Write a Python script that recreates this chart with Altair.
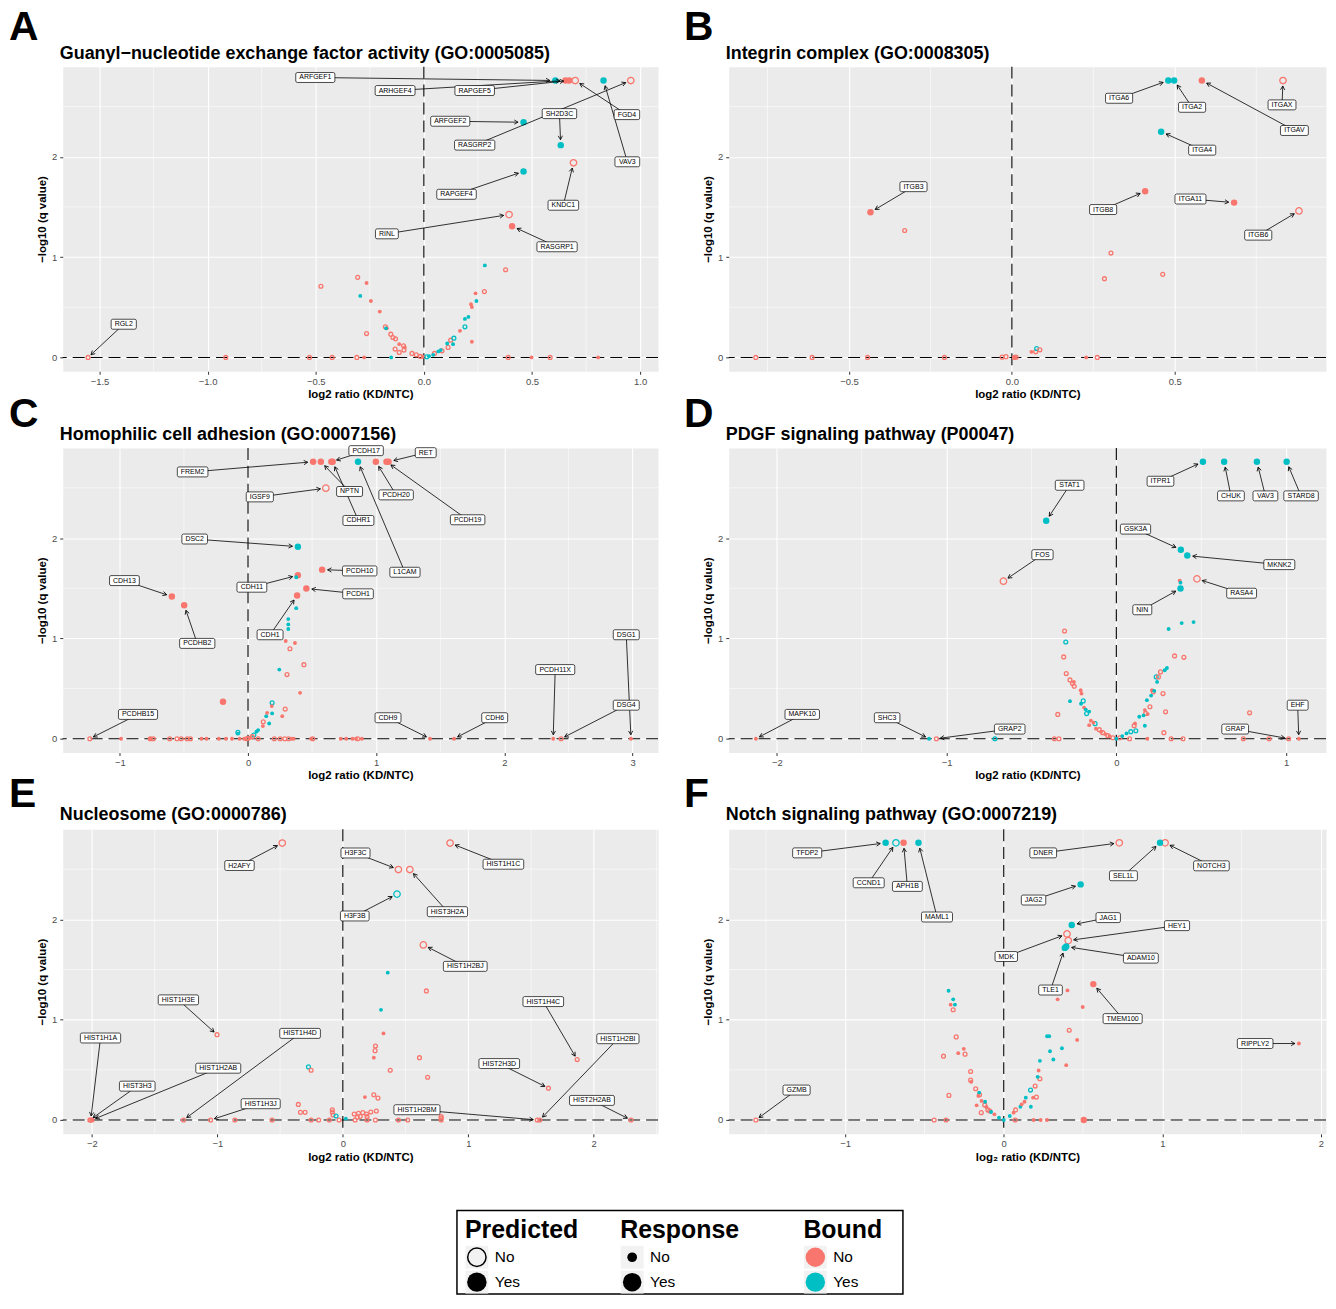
import math
import pandas as pd
import altair as alt

RED = "#F8766D"
TEAL = "#00BFC4"
FONT = "Liberation Sans"
Y_TITLE = "−log10 (q value)"
Y_DOMAIN = [-0.138, 2.898]
Y_TICKS = [0, 1, 2]
Y_MINOR = [0.5, 1.5, 2.5]

# kind code: first letter r/t = Bound No/Yes (upper case = Response Yes), second f/o = Predicted Yes/No
A_pts = [
    (0.608, 2.76, "Tf"), (0.655, 2.76, "Rf"), (0.672, 2.76, "Rf"), (0.700, 2.76, "Ro"), (0.831, 2.76, "Tf"),
    (0.957, 2.76, "Ro"), (0.461, 2.344, "Tf"), (0.633, 2.116, "Tf"), (0.692, 1.94, "Ro"), (0.461, 1.854, "Tf"),
    (0.394, 1.424, "Ro"), (0.408, 1.308, "Rf"),
    (-1.553, 0, "ro"), (-0.916, 0, "ro"), (-0.529, 0, "ro"), (-0.424, 0, "ro"), (-0.310, 0, "ro"),
    (-0.276, 0, "rf"), (-0.151, 0, "tf"), (0.390, 0, "ro"), (0.498, 0, "rf"), (0.584, 0, "ro"), (0.806, 0, "rf"),
    (-0.476, 0.709, "ro"), (-0.306, 0.798, "ro"), (-0.265, 0.742, "rf"), (-0.294, 0.613, "tf"), (-0.245, 0.563, "rf"),
    (-0.204, 0.457, "rf"), (-0.178, 0.305, "ro"), (-0.171, 0.291, "rf"), (-0.175, 0.29, "tf"), (-0.265, 0.238, "ro"),
    (-0.153, 0.232, "ro"), (-0.143, 0.199, "ro"), (-0.131, 0.185, "ro"), (-0.114, 0.132, "rf"), (-0.133, 0.083, "ro"),
    (-0.094, 0.116, "ro"), (-0.092, 0.073, "ro"), (-0.088, 0.099, "rf"), (-0.114, 0.05, "ro"), (-0.055, 0.04, "ro"),
    (-0.035, 0.026, "ro"), (-0.016, 0.01, "ro"), (-0.006, 0.007, "rf"),
    (0.014, 0.007, "to"), (0.024, 0.013, "tf"), (0.043, 0.026, "tf"), (0.049, 0.04, "ro"), (0.067, 0.06, "tf"),
    (0.078, 0.073, "tf"), (0.084, 0.066, "ro"), (0.112, 0.1, "ro"), (0.108, 0.139, "tf"), (0.124, 0.172, "ro"),
    (0.139, 0.192, "to"), (0.135, 0.132, "tf"), (0.167, 0.265, "rf"), (0.190, 0.305, "to"), (0.190, 0.384, "tf"),
    (0.206, 0.404, "tf"), (0.218, 0.53, "rf"), (0.222, 0.503, "rf"), (0.243, 0.563, "tf"), (0.239, 0.639, "rf"),
    (0.280, 0.656, "ro"), (0.282, 0.917, "tf"), (0.378, 0.874, "ro"), (0.222, 0.156, "rf"),
]
A_lab = [
    ("ARFGEF1", -0.502, 2.79, 0.608, 2.76), ("ARHGEF4", -0.133, 2.66, 0.655, 2.76),
    ("RAPGEF5", 0.235, 2.66, 0.672, 2.76), ("FGD4", 0.939, 2.42, 0.700, 2.76),
    ("VAV3", 0.941, 1.95, 0.831, 2.76), ("SH2D3C", 0.627, 2.43, 0.633, 2.116),
    ("RASGRP2", 0.235, 2.116, 0.957, 2.76), ("ARFGEF2", 0.122, 2.354, 0.461, 2.344),
    ("RAPGEF4", 0.151, 1.626, 0.461, 1.854), ("KNDC1", 0.645, 1.517, 0.692, 1.94),
    ("RINL", -0.171, 1.232, 0.394, 1.424), ("RASGRP1", 0.616, 1.103, 0.408, 1.308),
    ("RGL2", -1.388, 0.331, -1.553, 0),
]

B_pts = [
    (0.48, 2.76, "Tf"), (0.498, 2.76, "Tf"), (0.583, 2.76, "Rf"), (0.832, 2.76, "Ro"), (0.458, 2.25, "Tf"),
    (-0.434, 1.447, "Rf"), (0.409, 1.656, "Rf"), (0.682, 1.543, "Rf"), (0.881, 1.46, "Ro"),
    (-0.329, 1.265, "ro"), (0.304, 1.04, "ro"), (0.284, 0.785, "ro"), (0.463, 0.828, "ro"),
    (-0.786, 0, "ro"), (-0.613, 0, "ro"), (-0.443, 0, "ro"), (-0.207, 0, "ro"), (-0.03, 0.003, "ro"),
    (-0.018, 0.008, "ro"), (0.008, 0, "ro"), (0.013, 0.003, "ro"), (0.009, 0, "rf"), (0.228, 0, "rf"),
    (0.262, 0, "ro"), (0.06, 0.056, "rf"), (0.073, 0.056, "ro"), (0.076, 0.089, "to"), (0.086, 0.076, "ro"),
]
B_lab = [
    ("ITGA6", 0.329, 2.583, 0.48, 2.76), ("ITGA2", 0.553, 2.493, 0.498, 2.76),
    ("ITGAX", 0.829, 2.517, 0.832, 2.76), ("ITGAV", 0.867, 2.262, 0.583, 2.76),
    ("ITGA4", 0.584, 2.066, 0.458, 2.25), ("ITGB3", -0.302, 1.702, -0.434, 1.447),
    ("ITGB8", 0.28, 1.474, 0.409, 1.656), ("ITGA11", 0.548, 1.579, 0.682, 1.543),
    ("ITGB6", 0.756, 1.219, 0.881, 1.46),
]

C_pts = [
    (0.508, 2.76, "Rf"), (0.568, 2.76, "Rf"), (0.65, 2.76, "Rf"), (0.66, 2.76, "Rf"), (0.858, 2.76, "Tf"),
    (0.997, 2.76, "Rf"), (1.08, 2.76, "Rf"), (1.096, 2.76, "Rf"), (0.607, 2.497, "Ro"), (0.389, 1.914, "Tf"),
    (0.578, 1.685, "Rf"), (0.389, 1.629, "Rf"), (0.455, 1.497, "Rf"), (0.383, 1.427, "Rf"),
    (-0.594, 1.417, "Rf"), (-0.498, 1.331, "Rf"), (-0.195, 0.368, "Rf"),
    (0.314, 1.192, "tf"), (0.314, 1.139, "tf"), (0.314, 1.093, "tf"), (0.376, 1.301, "tf"), (0.376, 1.609, "tf"),
    (0.294, 0.974, "rf"), (0.366, 0.954, "rf"), (0.327, 0.897, "ro"), (0.436, 0.738, "ro"), (0.244, 0.689, "tf"),
    (0.304, 0.639, "ro"), (0.406, 0.457, "rf"), (0.188, 0.358, "to"), (0.185, 0.325, "rf"), (0.188, 0.252, "tf"),
    (0.29, 0.295, "ro"), (0.267, 0.225, "rf"), (0.142, 0.225, "tf"), (0.165, 0.152, "tf"), (0.149, 0.258, "rf"),
    (0.116, 0.126, "rf"), (0.119, 0.169, "ro"), (0.079, 0.086, "tf"), (0.066, 0.07, "tf"), (0.046, 0.036, "to"),
    (0.033, 0.02, "ro"), (-0.079, 0.063, "to"), (-0.079, 0.05, "tf"), (0.02, 0.01, "rf"), (0.0, 0.005, "ro"),
    (-1.234, 0, "ro"), (-0.762, 0, "ro"), (-0.739, 0, "ro"), (-0.611, 0, "ro"), (-0.554, 0, "ro"),
    (-0.521, 0, "ro"), (-0.475, 0, "ro"), (-0.449, 0, "ro"), (-0.01, 0, "ro"), (0.079, 0, "ro"),
    (0.205, 0, "ro"), (0.251, 0, "ro"), (0.287, 0, "ro"), (0.317, 0, "ro"), (0.505, 0, "ro"),
    (0.855, 0, "ro"), (2.442, 0, "ro"),
    (-0.99, 0, "rf"), (-0.766, 0, "rf"), (-0.363, 0, "rf"), (-0.323, 0, "rf"), (-0.228, 0, "rf"),
    (-0.172, 0, "rf"), (-0.125, 0, "rf"), (-0.066, 0, "rf"), (-0.03, 0, "rf"), (0.34, 0, "rf"),
    (0.356, 0, "rf"), (0.492, 0, "rf"), (0.723, 0, "rf"), (0.766, 0, "rf"), (0.815, 0, "rf"),
    (0.842, 0, "rf"), (0.888, 0, "rf"), (1.419, 0, "rf"), (1.607, 0, "rf"), (2.38, 0, "rf"), (2.987, 0, "rf"),
]
C_lab = [
    ("PCDH17", 0.921, 2.871, 0.65, 2.76), ("RET", 1.386, 2.851, 1.096, 2.76),
    ("FREM2", -0.432, 2.659, 0.508, 2.76), ("NPTN", 0.792, 2.464, 0.568, 2.76),
    ("PCDH20", 1.155, 2.43, 0.997, 2.76), ("PCDH19", 1.713, 2.182, 1.08, 2.76),
    ("CDHR1", 0.861, 2.175, 0.66, 2.76), ("IGSF9", 0.092, 2.41, 0.607, 2.497),
    ("L1CAM", 1.224, 1.659, 0.858, 2.76), ("DSC2", -0.416, 1.99, 0.389, 1.914),
    ("PCDH10", 0.871, 1.672, 0.578, 1.685), ("CDH13", -0.964, 1.576, -0.594, 1.417),
    ("CDH11", 0.03, 1.51, 0.389, 1.629), ("PCDH1", 0.858, 1.444, 0.455, 1.497),
    ("PCDHB2", -0.396, 0.95, -0.498, 1.331), ("CDH1", 0.172, 1.036, 0.383, 1.427),
    ("DSG1", 2.95, 1.036, 2.987, 0), ("PCDH11X", 2.396, 0.689, 2.38, 0),
    ("DSG4", 2.95, 0.334, 2.442, 0), ("PCDHB15", -0.858, 0.242, -1.234, 0),
    ("CDH9", 1.092, 0.209, 1.419, 0), ("CDH6", 1.924, 0.209, 1.607, 0),
]

D_pts = [
    (0.51, 2.76, "Tf"), (0.635, 2.76, "Tf"), (0.828, 2.76, "Tf"), (1.003, 2.76, "Tf"), (-0.413, 2.172, "Tf"),
    (0.38, 1.884, "Tf"), (0.418, 1.825, "Tf"), (-0.665, 1.57, "Ro"), (0.475, 1.593, "Ro"), (0.378, 1.497, "Tf"),
    (0.373, 1.576, "rf"), (0.378, 1.555, "tf"), (0.308, 1.093, "tf"), (0.385, 1.152, "tf"), (0.455, 1.162, "tf"),
    (-0.305, 1.073, "ro"), (-0.298, 0.964, "to"), (-0.31, 0.815, "ro"), (-0.295, 0.649, "ro"), (-0.273, 0.586, "ro"),
    (-0.258, 0.55, "ro"), (-0.25, 0.566, "rf"), (-0.248, 0.523, "ro"), (-0.21, 0.483, "rf"), (-0.205, 0.45, "rf"),
    (-0.273, 0.374, "tf"), (-0.208, 0.348, "tf"), (-0.195, 0.377, "to"), (-0.345, 0.242, "ro"),
    (-0.19, 0.31, "rf"), (-0.18, 0.29, "tf"), (-0.175, 0.25, "to"), (-0.16, 0.27, "tf"), (-0.15, 0.18, "rf"),
    (-0.16, 0.135, "rf"), (-0.135, 0.16, "rf"), (-0.125, 0.15, "to"), (-0.12, 0.1, "rf"), (-0.1, 0.09, "ro"),
    (-0.09, 0.07, "rf"), (-0.08, 0.06, "ro"), (-0.065, 0.046, "rf"), (-0.05, 0.03, "ro"), (-0.04, 0.026, "rf"),
    (-0.02, 0.01, "ro"), (0.0, 0.0, "tf"),
    (-0.365, 0, "ro"), (-0.338, 0, "ro"), (-2.123, 0, "rf"), (-1.103, 0, "tf"), (-1.06, 0, "ro"),
    (-0.715, 0, "to"), (0.078, 0, "ro"), (0.183, 0, "rf"), (0.323, 0, "ro"), (0.393, 0, "ro"),
    (0.748, 0, "ro"), (0.9, 0, "ro"), (1.015, 0, "ro"), (1.075, 0, "rf"),
    (0.02, 0.01, "ro"), (0.035, 0.026, "tf"), (0.06, 0.053, "tf"), (0.085, 0.07, "to"), (0.115, 0.079, "to"),
    (0.11, 0.152, "rf"), (0.105, 0.13, "ro"), (0.135, 0.219, "tf"), (0.16, 0.232, "tf"), (0.168, 0.285, "rf"),
    (0.173, 0.252, "ro"), (0.185, 0.245, "rf"), (0.198, 0.318, "ro"), (0.18, 0.384, "tf"), (0.205, 0.43, "tf"),
    (0.21, 0.483, "rf"), (0.218, 0.467, "ro"), (0.223, 0.477, "tf"), (0.24, 0.566, "tf"), (0.235, 0.616, "to"),
    (0.248, 0.616, "ro"), (0.26, 0.666, "ro"), (0.285, 0.682, "tf"), (0.298, 0.705, "tf"), (0.343, 0.825, "ro"),
    (0.398, 0.811, "ro"), (0.168, 0.129, "tf"), (0.275, 0.45, "ro"), (0.29, 0.268, "ro"), (0.28, 0.06, "ro"),
    (0.785, 0.258, "ro"),
]
D_lab = [
    ("ITPR1", 0.26, 2.566, 0.51, 2.76), ("CHUK", 0.675, 2.42, 0.635, 2.76),
    ("VAV3", 0.878, 2.42, 0.828, 2.76), ("STARD8", 1.088, 2.42, 1.003, 2.76),
    ("STAT1", -0.275, 2.526, -0.413, 2.172), ("GSK3A", 0.113, 2.089, 0.38, 1.884),
    ("MKNK2", 0.96, 1.735, 0.418, 1.825), ("FOS", -0.435, 1.834, -0.665, 1.57),
    ("RASA4", 0.738, 1.45, 0.475, 1.593), ("NIN", 0.153, 1.285, 0.378, 1.497),
    ("MAPK10", -1.85, 0.242, -2.123, 0), ("SHC3", -1.35, 0.209, -1.103, 0),
    ("GRAP2", -0.628, 0.096, -1.06, 0), ("GRAP", 0.7, 0.096, 1.015, 0),
    ("EHF", 1.068, 0.334, 1.075, 0),
]

E_pts = [
    (-0.483, 2.76, "Ro"), (0.855, 2.76, "Ro"), (0.443, 2.496, "Ro"), (0.534, 2.496, "Ro"), (0.432, 2.251, "To"),
    (0.642, 1.745, "Ro"),
    (0.358, 1.468, "tf"), (0.304, 1.098, "tf"), (0.324, 0.863, "rf"), (0.666, 1.286, "ro"), (0.26, 0.737, "ro"),
    (0.257, 0.691, "ro"), (0.247, 0.621, "rf"), (0.611, 0.621, "ro"), (0.378, 0.496, "ro"), (0.676, 0.426, "ro"),
    (-0.274, 0.529, "to"), (-0.253, 0.496, "ro"), (0.176, 0.228, "rf"), (0.247, 0.251, "ro"), (0.28, 0.218, "ro"),
    (-0.355, 0.155, "ro"), (-0.338, 0.076, "ro"), (-0.301, 0.076, "ro"), (-0.084, 0.102, "ro"), (-0.084, 0.079, "ro"),
    (-0.078, 0.05, "ro"), (-0.054, 0.04, "to"), (0.024, 0.013, "tf"), (0.091, 0.06, "ro"), (0.125, 0.066, "ro"),
    (0.159, 0.073, "ro"), (0.189, 0.06, "ro"), (0.223, 0.079, "ro"), (0.267, 0.089, "ro"), (0.139, 0.036, "ro"),
    (0.193, 0.033, "ro"), (0.115, 0.026, "ro"), (-1.003, 0.85, "ro"), (1.868, 0.602, "ro"), (1.639, 0.317, "ro"),
    (-2.017, 0, "ro"), (-2.01, 0, "ro"), (-2.0, 0, "ro"), (-1.27, 0, "ro"), (-1.054, 0, "ro"), (-0.861, 0, "ro"),
    (-0.564, 0, "ro"), (-0.253, 0, "ro"), (-0.193, 0, "ro"), (-0.108, 0, "ro"), (-0.03, 0, "ro"), (0.098, 0, "ro"),
    (0.193, 0, "ro"), (0.26, 0, "ro"), (0.443, 0, "ro"), (0.517, 0, "ro"), (1.55, 0, "ro"), (1.57, 0, "ro"),
    (2.297, 0, "ro"), (0.784, 0, "ro"), (0.784, 0.02, "ro"), (0.784, 0.035, "ro"),
]
E_lab = [
    ("H2AFY", -0.824, 2.536, -0.483, 2.76), ("H3F3C", 0.101, 2.661, 0.443, 2.496),
    ("HIST1H1C", 1.28, 2.549, 0.855, 2.76), ("HIST3H2A", 0.834, 2.076, 0.534, 2.496),
    ("H3F3B", 0.095, 2.033, 0.432, 2.251), ("HIST1H2BJ", 0.976, 1.531, 0.642, 1.745),
    ("HIST1H3E", -1.311, 1.197, -1.003, 0.85), ("HIST1H4C", 1.598, 1.18, 1.868, 0.602),
    ("HIST1H1A", -1.932, 0.817, -2.01, 0), ("HIST1H4D", -0.341, 0.863, -1.27, 0),
    ("HIST1H2BI", 2.193, 0.81, 1.57, 0), ("HIST2H3D", 1.247, 0.562, 1.639, 0.317),
    ("HIST1H2AB", -0.993, 0.516, -2.0, 0), ("HIST3H3", -1.639, 0.337, -2.017, 0),
    ("HIST1H3J", -0.655, 0.162, -1.054, 0), ("HIST2H2AB", 1.986, 0.195, 2.297, 0),
    ("HIST1H2BM", 0.591, 0.102, 1.55, 0),
]

F_pts = [
    (-0.745, 2.762, "Tf"), (-0.68, 2.762, "To"), (-0.632, 2.762, "Rf"), (-0.538, 2.762, "Tf"),
    (0.729, 2.762, "Ro"), (0.986, 2.762, "Tf"), (1.018, 2.762, "Ro"), (0.485, 2.348, "Tf"),
    (0.429, 1.944, "Tf"), (0.399, 1.854, "Ro"), (0.407, 1.788, "Ro"), (0.394, 1.728, "Tf"), (0.385, 1.715, "Tf"),
    (0.565, 1.354, "Rf"), (0.505, 0, "Rf"),
    (-0.348, 1.288, "tf"), (-0.319, 1.202, "tf"), (-0.308, 1.149, "tf"), (-0.335, 1.149, "rf"), (-0.319, 1.099, "ro"),
    (-0.3, 0.828, "ro"), (-0.252, 0.709, "rf"), (-0.244, 0.656, "ro"), (-0.287, 0.666, "rf"), (-0.38, 0.636, "ro"),
    (-0.209, 0.483, "ro"), (-0.209, 0.397, "ro"), (-0.205, 0.38, "rf"), (-0.346, 0.245, "ro"), (-0.177, 0.311, "ro"),
    (-0.155, 0.272, "tf"), (-0.16, 0.24, "rf"), (-0.153, 0.252, "ro"), (-0.171, 0.146, "rf"), (-0.118, 0.182, "tf"),
    (-0.14, 0.19, "rf"), (-0.142, 0.073, "ro"), (-0.11, 0.13, "rf"), (-0.088, 0.089, "ro"), (-0.08, 0.079, "tf"),
    (-0.059, 0.056, "rf"), (-0.03, 0.023, "tf"), (-0.1, 0.1, "ro"), (-0.12, 0.15, "ro"),
    (-1.564, 0, "ro"), (-0.439, 0, "ro"), (-0.364, 0, "ro"), (0.0, 0, "tf"), (0.072, 0, "ro"),
    (0.188, 0, "rf"), (0.233, 0, "rf"), (0.273, 0, "rf"),
    (0.038, 0.04, "tf"), (0.062, 0.073, "rf"), (0.075, 0.1, "ro"), (0.105, 0.132, "tf"), (0.113, 0.156, "rf"),
    (0.131, 0.182, "rf"), (0.139, 0.222, "tf"), (0.171, 0.132, "tf"), (0.169, 0.298, "to"), (0.185, 0.222, "rf"),
    (0.198, 0.338, "ro"), (0.206, 0.228, "ro"), (0.214, 0.43, "tf"), (0.228, 0.411, "ro"), (0.22, 0.493, "rf"),
    (0.228, 0.589, "tf"), (0.273, 0.834, "tf"), (0.287, 0.834, "tf"), (0.292, 0.685, "tf"), (0.313, 0.603, "tf"),
    (0.367, 0.715, "tf"), (0.394, 0.546, "rf"), (0.463, 0.798, "rf"), (0.413, 0.894, "ro"), (0.498, 1.126, "rf"),
    (0.34, 1.202, "rf"), (0.402, 1.291, "rf"), (1.862, 0.762, "rf"),
]
F_lab = [
    ("TFDP2", -1.24, 2.662, -0.745, 2.762), ("CCND1", -0.852, 2.364, -0.68, 2.762),
    ("APH1B", -0.608, 2.328, -0.632, 2.762), ("MAML1", -0.421, 2.023, -0.538, 2.762),
    ("DNER", 0.249, 2.662, 0.729, 2.762), ("SEL1L", 0.755, 2.434, 0.986, 2.762),
    ("NOTCH3", 1.31, 2.533, 1.018, 2.762), ("JAG2", 0.188, 2.192, 0.485, 2.348),
    ("JAG1", 0.659, 2.017, 0.429, 1.944), ("HEY1", 1.093, 1.937, 0.407, 1.788),
    ("MDK", 0.016, 1.629, 0.399, 1.854), ("ADAM10", 0.865, 1.613, 0.394, 1.728),
    ("TLE1", 0.295, 1.295, 0.385, 1.715), ("TMEM100", 0.75, 1.01, 0.565, 1.354),
    ("RIPPLY2", 1.586, 0.762, 1.862, 0.762), ("GZMB", -1.307, 0.298, -1.564, 0),
]

PANELS = [
    ("A", "Guanyl−nucleotide exchange factor activity (GO:0005085)", A_pts, A_lab, [-1.67, 1.083],
     [-1.5, -1.0, -0.5, 0.0, 0.5, 1.0], [-1.25, -0.75, -0.25, 0.25, 0.75], ".1f", "log2 ratio (KD/NTC)"),
    ("B", "Integrin complex (GO:0008305)", B_pts, B_lab, [-0.869, 0.964],
     [-0.5, 0.0, 0.5], [-0.75, -0.25, 0.25, 0.75], ".1f", "log2 ratio (KD/NTC)"),
    ("C", "Homophilic cell adhesion (GO:0007156)", C_pts, C_lab, [-1.445, 3.198],
     [-1, 0, 1, 2, 3], [-0.5, 0.5, 1.5, 2.5], "d", "log2 ratio (KD/NTC)"),
    ("D", "PDGF signaling pathway (P00047)", D_pts, D_lab, [-2.283, 1.235],
     [-2, -1, 0, 1], [-1.5, -0.5, 0.5], "d", "log2 ratio (KD/NTC)"),
    ("E", "Nucleosome (GO:0000786)", E_pts, E_lab, [-2.233, 2.513],
     [-2, -1, 0, 1, 2], [-1.5, -0.5, 0.5, 1.5, 2.5], "d", "log2 ratio (KD/NTC)"),
    ("F", "Notch signaling pathway (GO:0007219)", F_pts, F_lab, [-1.735, 2.033],
     [-1, 0, 1, 2], [-1.5, -0.5, 0.5, 1.5], "d", "log₂ ratio (KD/NTC)"),
]

LEG_GROUPS = ["Predicted", "Response", "Bound"]
LEG_LEVELS = ["No", "Yes"]

# ---------------- layout constants ----------------
PH = 306
PW = [598, 600]
LETTER_X = [-54, -45]
LETTER_Y = [-27, -21, -22]
TITLE_Y = [-13, -13, -14]
ARROW = "M -0.55 1 L 0 0 L 0.55 1"

CW = dict(A=667, B=667, C=722, D=722, E=667, F=611, G=778, H=722, I=278, J=500, K=667, L=556, M=833,
          N=722, O=778, P=667, Q=778, R=722, S=667, T=611, U=722, V=667, W=944, X=667, Y=667, Z=611)


def text_w(s, fs):
    return sum(CW.get(c, 556) for c in s) / 1000.0 * fs


def label_frame(pts, labs, kx, ky):
    rows = []
    for name, lx, ly, tx, ty in labs:
        best = min(pts, key=lambda p: ((p[0] - tx) * kx) ** 2 + ((p[1] - ty) * ky) ** 2)
        pad = 5.5 if best[2][0].isupper() else 4.0
        dxp = (tx - lx) * kx
        dyp = -(ty - ly) * ky
        L = math.hypot(dxp, dyp) or 1.0
        ux, uy = dxp / L, dyp / L
        ex = tx - ux * pad / kx
        ey = ty + uy * pad / ky
        ang = math.degrees(math.atan2(ux, -uy)) % 360
        bw = text_w(name, 7) + 7
        bh = 10
        rows.append(dict(name=name, lx=lx, ly=ly, ex=ex, ey=ey, ang=ang,
                         bx1=lx - bw / 2 / kx, bx2=lx + bw / 2 / kx,
                         by1=ly - bh / 2 / ky, by2=ly + bh / 2 / ky))
    return pd.DataFrame(rows)


def panel(idx):
    letter, title, pts, labs, xdom, xmaj, xmin, fmt, xtitle = PANELS[idx]
    col, row = idx % 2, idx // 2
    W = PW[col]
    kx = W / (xdom[1] - xdom[0])
    ky = PH / (Y_DOMAIN[1] - Y_DOMAIN[0])

    df = pd.DataFrame(pts, columns=["x", "y", "k"])
    df["bound"] = df["k"].str[0].str.lower().map({"r": "No", "t": "Yes"})
    df["pred"] = df["k"].str[1].map({"f": "Yes", "o": "No"})
    df["resp"] = df["k"].str[0].map(lambda c: "Yes" if c.isupper() else "No")
    lab = label_frame(pts, labs, kx, ky)

    xs = alt.Scale(domain=xdom, nice=False, zero=False)
    ys = alt.Scale(domain=Y_DOMAIN, nice=False, zero=False)
    xax = alt.Axis(values=xmaj, format=fmt, title=xtitle)
    yax = alt.Axis(values=Y_TICKS, format="d", title=Y_TITLE)

    def X(f):
        return alt.X(f, type="quantitative", scale=xs, axis=xax)

    def Y(f):
        return alt.Y(f, type="quantitative", scale=ys, axis=yax)

    color = alt.Color("bound:N", scale=alt.Scale(domain=["No", "Yes"], range=[RED, TEAL]), legend=None)
    size = alt.Size("resp:O", scale=alt.Scale(domain=["No", "Yes"], range=[15, 42]), legend=None)

    gx = alt.Chart(pd.DataFrame({"v": xmin})).mark_rule(color="white", strokeWidth=0.55).encode(x=X("v"))
    gy = alt.Chart(pd.DataFrame({"v": Y_MINOR})).mark_rule(color="white", strokeWidth=0.55).encode(y=Y("v"))
    zero = pd.DataFrame({"v": [0]})
    vline = alt.Chart(zero).mark_rule(color="black", strokeWidth=1.1, strokeDash=[12, 6]).encode(x=X("v"))
    hline = alt.Chart(zero).mark_rule(color="black", strokeWidth=1.1, strokeDash=[12, 6]).encode(y=Y("v"))
    opn = alt.Chart(df[df["pred"] == "No"]).mark_point(filled=False, strokeWidth=1.3, opacity=1).encode(
        x=X("x"), y=Y("y"), color=color, size=size)
    fil = alt.Chart(df[df["pred"] == "Yes"]).mark_circle(opacity=1).encode(
        x=X("x"), y=Y("y"), color=color, size=size)
    seg = alt.Chart(lab).mark_rule(color="black", strokeWidth=0.8).encode(
        x=X("lx"), y=Y("ly"), x2=alt.X2("ex"), y2=alt.Y2("ey"))
    heads = alt.Chart(lab).mark_point(shape=ARROW, filled=False, color="black", strokeWidth=0.8,
                                      size=60, opacity=1).encode(
        x=X("ex"), y=Y("ey"), angle=alt.Angle("ang:Q", scale=None))
    boxes = alt.Chart(lab).mark_rect(fill="white", stroke="black", strokeWidth=0.7, cornerRadius=1.5).encode(
        x=X("bx1"), x2=alt.X2("bx2"), y=Y("by1"), y2=alt.Y2("by2"))
    texts = alt.Chart(lab).mark_text(font=FONT, fontSize=7, color="black").encode(
        x=X("lx"), y=Y("ly"), text="name:N")
    let = alt.Chart(pd.DataFrame({"t": [letter]})).mark_text(
        font=FONT, fontSize=41, fontWeight="bold", align="left", baseline="alphabetic", color="black").encode(
        x=alt.value(LETTER_X[col]), y=alt.value(LETTER_Y[row]), text="t:N")
    tit = alt.Chart(pd.DataFrame({"t": [title]})).mark_text(
        font=FONT, fontSize=18, fontWeight="bold", align="left", baseline="middle", color="black").encode(
        x=alt.value(-3), y=alt.value(TITLE_Y[row]), text="t:N")
    return alt.layer(gx, gy, vline, hline, opn, fil, seg, heads, boxes, texts, let, tit).properties(
        width=W, height=PH)


# ---------------- legend (sits in the left grid cell, box offset to the centre) ----------------
LEG_OFF = 396
LEG_H = 84
LEG_X = {"Predicted": LEG_OFF + 20, "Response": LEG_OFF + 176, "Bound": LEG_OFF + 360}
leg = pd.DataFrame({"group": [g for g in LEG_GROUPS for _ in LEG_LEVELS], "level": LEG_LEVELS * 3})


def ly():
    return alt.Y("level:N", scale=alt.Scale(domain=LEG_LEVELS, range=[47, 72], padding=0), axis=None)


leg_layers = [
    alt.Chart(pd.DataFrame({"t": ["box"]})).mark_rect(fill="white", stroke="black", strokeWidth=1.5).encode(
        x=alt.value(LEG_OFF), x2=alt.value(LEG_OFF + 448), y=alt.value(0), y2=alt.value(LEG_H))
]
for g in LEG_GROUPS:
    px = LEG_X[g]
    sub = leg[leg["group"] == g]
    leg_layers.append(alt.Chart(sub).mark_square(size=529, color="#F2F2F2", opacity=1).encode(
        x=alt.value(px), y=ly()))
    leg_layers.append(alt.Chart(pd.DataFrame({"t": [g]})).mark_text(
        font=FONT, fontSize=25, fontWeight="bold", align="left", baseline="alphabetic", color="black").encode(
        x=alt.value(px - 12), y=alt.value(28), text="t:N"))
    leg_layers.append(alt.Chart(sub).mark_text(
        font=FONT, fontSize=15.5, align="left", baseline="middle", dx=18, color="black").encode(
        x=alt.value(px), y=ly(), text="level:N"))

pno = leg[(leg["group"] == "Predicted") & (leg["level"] == "No")]
pyes = leg[(leg["group"] == "Predicted") & (leg["level"] == "Yes")]
rno = leg[(leg["group"] == "Response") & (leg["level"] == "No")]
ryes = leg[(leg["group"] == "Response") & (leg["level"] == "Yes")]
bno = leg[(leg["group"] == "Bound") & (leg["level"] == "No")]
byes = leg[(leg["group"] == "Bound") & (leg["level"] == "Yes")]
leg_layers += [
    alt.Chart(pno).mark_point(filled=False, color="black", size=340, strokeWidth=1.5, opacity=1).encode(
        x=alt.value(LEG_X["Predicted"]), y=ly()),
    alt.Chart(pyes).mark_circle(color="black", size=380, opacity=1).encode(x=alt.value(LEG_X["Predicted"]), y=ly()),
    alt.Chart(rno).mark_circle(color="black", size=95, opacity=1).encode(x=alt.value(LEG_X["Response"]), y=ly()),
    alt.Chart(ryes).mark_circle(color="black", size=346, opacity=1).encode(x=alt.value(LEG_X["Response"]), y=ly()),
    alt.Chart(bno).mark_circle(color=RED, size=380, opacity=1).encode(x=alt.value(LEG_X["Bound"]), y=ly()),
    alt.Chart(byes).mark_circle(color=TEAL, size=380, opacity=1).encode(x=alt.value(LEG_X["Bound"]), y=ly()),
]
legend = alt.layer(*leg_layers).properties(
    width=598, height=LEG_H, view=alt.ViewBackground(fill="transparent", stroke="transparent"))

chart = alt.concat(
    *[panel(i) for i in range(6)], legend,
    columns=2, spacing={"row": 77, "column": 71}, bounds="flush",
).properties(
    padding={"left": 0, "top": -5, "right": 0, "bottom": 0},
).configure_view(
    fill="#EBEBEB", stroke="transparent"
).configure_axis(
    grid=True, gridColor="white", gridWidth=1.1, domain=False, tickColor="#333333", tickSize=3,
    labelColor="#4D4D4D", labelFontSize=9.5, labelFont=FONT, titleFont=FONT, titleFontSize=11.5,
    titleFontWeight="bold", titleColor="black",
).configure_axisX(labelPadding=2, titlePadding=3).configure_axisY(labelPadding=3, titlePadding=4)

chart.save("out.html", embed_options={"renderer": "svg", "actions": False})
